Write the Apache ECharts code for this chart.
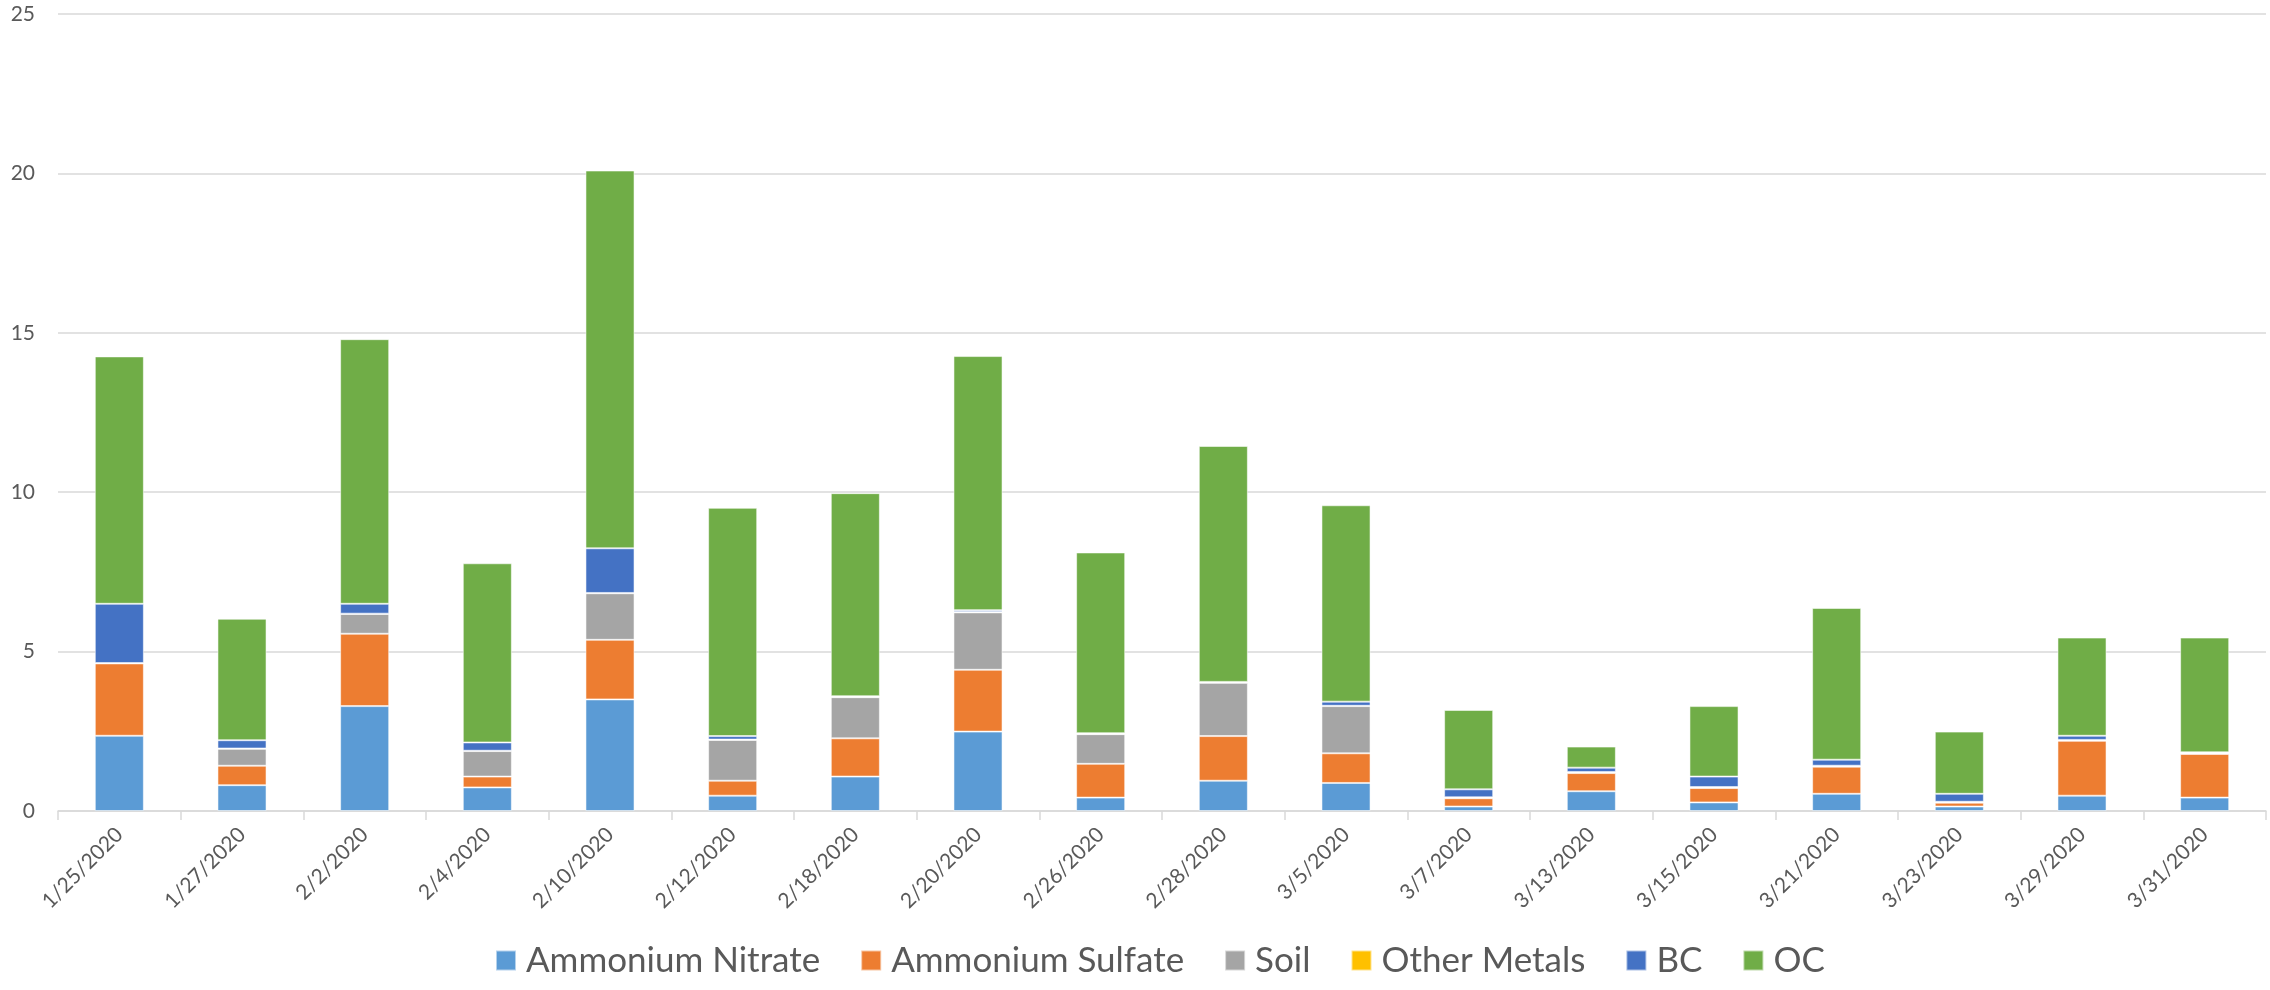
<!DOCTYPE html>
<html>
<head>
<meta charset="utf-8">
<script src="https://cdn.jsdelivr.net/npm/echarts@6/dist/echarts.min.js"></script>
<style>html,body{margin:0;padding:0;background:#fff}#c{width:2270px;height:990px}</style>
</head>
<body>
<div id="c"></div>
<script>
const categories = ["1/25/2020","1/27/2020","2/2/2020","2/4/2020","2/10/2020","2/12/2020","2/18/2020","2/20/2020","2/26/2020","2/28/2020","3/5/2020","3/7/2020","3/13/2020","3/15/2020","3/21/2020","3/23/2020","3/29/2020","3/31/2020"];
const ammoniumNitrate = [2.36,0.81,3.29,0.74,3.50,0.48,1.08,2.49,0.42,0.95,0.88,0.14,0.62,0.27,0.54,0.14,0.48,0.42];
const ammoniumSulfate = [2.27,0.61,2.27,0.34,1.87,0.47,1.20,1.94,1.06,1.40,0.93,0.26,0.57,0.45,0.85,0.12,1.72,1.37];
const soil = [0.00,0.53,0.62,0.80,1.46,1.28,1.29,1.80,0.93,1.67,1.48,0.02,0.02,0.02,0.02,0.02,0.02,0.02];
const otherMetals = [0.01,0.01,0.01,0.01,0.01,0.01,0.01,0.01,0.01,0.01,0.01,0.01,0.01,0.01,0.01,0.01,0.01,0.01];
const bc = [1.86,0.26,0.31,0.26,1.40,0.11,0.02,0.06,0.02,0.02,0.13,0.25,0.14,0.33,0.19,0.25,0.13,0.02];
const oc = [7.76,3.81,8.30,5.62,11.85,7.16,6.37,7.97,5.67,7.40,6.16,2.49,0.66,2.21,4.76,1.95,3.08,3.60];
const yTicks = {min:0, max:25, interval:5};

const seriesDefs = [
  ["Ammonium Nitrate", ammoniumNitrate, "#5B9BD5"],
  ["Ammonium Sulfate", ammoniumSulfate, "#ED7D31"],
  ["Soil", soil, "#A5A5A5"],
  ["Other Metals", otherMetals, "#FFC000"],
  ["BC", bc, "#4472C4"],
  ["OC", oc, "#70AD47"]
];
const FONT = "Lato, 'Noto Sans', sans-serif";
const chart = echarts.init(document.getElementById('c'), null, {renderer:'canvas'});
chart.setOption({
  animation:false,
  backgroundColor:'#fff',
  color: seriesDefs.map(s=>s[2]),
  grid:{left:58, right:4, top:14, bottom:179, containLabel:false},
  legend:{
    bottom:7, left:490, itemWidth:20, itemHeight:20, itemGap:40,
    icon:'rect',
    textStyle:{fontFamily:FONT, fontSize:35, color:'#595959', padding:[0,0,0,5]},
    data: seriesDefs.map(s=>s[0])
  },
  xAxis:{
    type:'category', data:categories,
    axisLine:{lineStyle:{color:'#D9D9D9', width:1.5}},
    axisTick:{show:true, alignWithLabel:false, length:9, lineStyle:{color:'#D9D9D9', width:1.5}},
    axisLabel:{rotate:45, margin:20, fontFamily:FONT, fontSize:21, color:'#595959', interval:0}
  },
  yAxis:{
    type:'value', min:yTicks.min, max:yTicks.max, interval:yTicks.interval,
    axisLine:{show:false}, axisTick:{show:false},
    splitLine:{lineStyle:{color:'#D9D9D9', width:1.5}},
    axisLabel:{margin:23, fontFamily:FONT, fontSize:21, color:'#595959'}
  },
  series: seriesDefs.map(s=>({
    name:s[0], type:'bar', stack:'total', data:s[1],
    barCategoryGap:'60%',
    itemStyle:{color:s[2], borderColor:'rgba(255,255,255,0.55)', borderWidth:1}
  }))
});
</script>
</body>
</html>
